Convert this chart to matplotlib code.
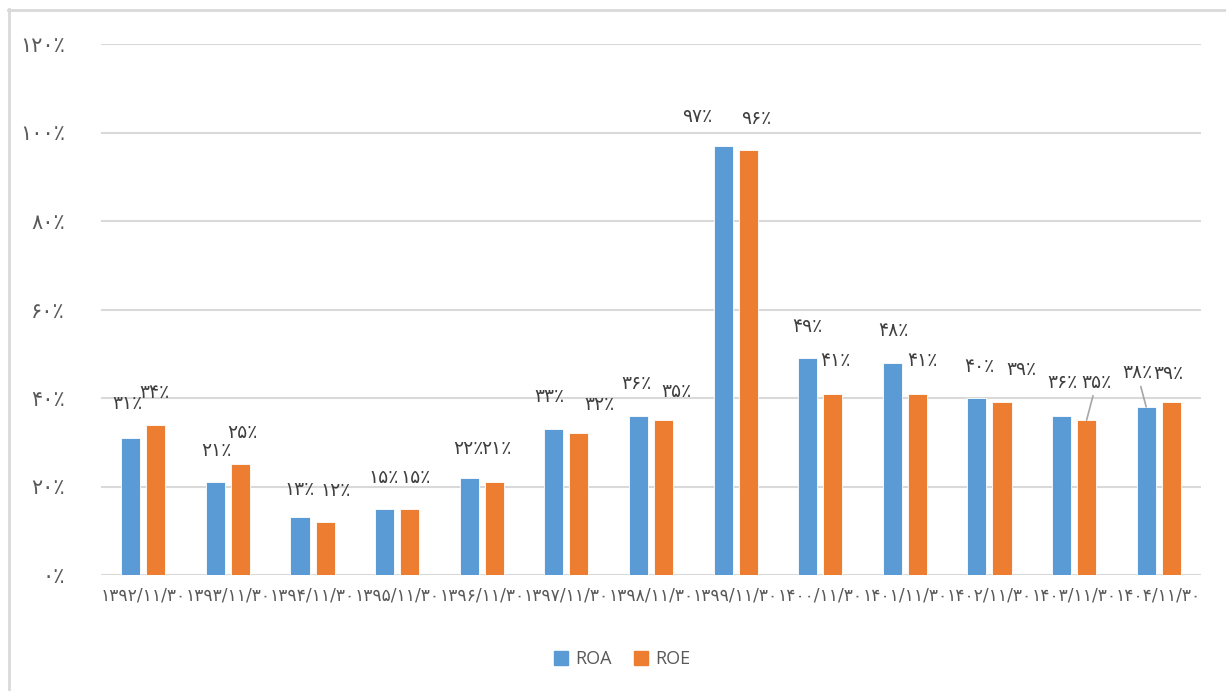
import numpy as np
import matplotlib
matplotlib.use("Agg")
import matplotlib.pyplot as plt
from matplotlib.lines import Line2D

# data (Persian dates, values in percent)
dates = ["۱۳۹۲/۱۱/۳۰", "۱۳۹۳/۱۱/۳۰", "۱۳۹۴/۱۱/۳۰", "۱۳۹۵/۱۱/۳۰", "۱۳۹۶/۱۱/۳۰",
         "۱۳۹۷/۱۱/۳۰", "۱۳۹۸/۱۱/۳۰", "۱۳۹۹/۱۱/۳۰", "۱۴۰۰/۱۱/۳۰", "۱۴۰۱/۱۱/۳۰",
         "۱۴۰۲/۱۱/۳۰", "۱۴۰۳/۱۱/۳۰", "۱۴۰۴/۱۱/۳۰"]
roa = [31, 21, 13, 15, 22, 33, 36, 97, 49, 48, 40, 36, 38]
roe = [34, 25, 12, 15, 21, 32, 35, 96, 41, 41, 39, 35, 39]
y_ticks = [0, 20, 40, 60, 80, 100, 120]

# manual label placement (pixels relative to bar top), like the hand-moved labels
roa_dx = [-3, 1, 0, -1, -1, -4, -2, -26, 0, 1, 2, 1, -9]
roa_dy = [34, 32, 28, 31, 29, 32, 32, 29, 32, 32, 31, 33, 34]
roe_dx = [-1, 2, 11, 6, 2, 21, 13, 8, 3, 5, 19, 10, -3]
roe_dy = [32, 32, 31, 31, 34, 29, 29, 32, 33, 33, 33, 38, 29]
roa_leader = [False] * 12 + [True]
roe_leader = [False] * 11 + [True, False]

PERSIAN = str.maketrans("0123456789", "۰۱۲۳۴۵۶۷۸۹")


def fa_pct(v):
    return str(int(v)).translate(PERSIAN) + "٪"


BLUE = "#5B9BD5"
ORANGE = "#ED7D31"
TXT = "#595959"
LBL = "#404040"
GRID = "#D9D9D9"

W, H = 1226, 691
fig = plt.figure(figsize=(W / 100, H / 100), dpi=100)
fig.patch.set_facecolor("white")
ax = fig.add_axes([101 / W, (H - 575) / H, 1100 / W, (575 - 44) / H])

x = np.arange(len(dates))
bw = 0.225
off = 0.148
ax.bar(x - off, roa, bw, color=BLUE, edgecolor="white", linewidth=0.6, zorder=3)
ax.bar(x + off, roe, bw, color=ORANGE, edgecolor="white", linewidth=0.6, zorder=3)

ax.set_xlim(-0.5, len(dates) - 0.5)
ax.set_ylim(0, 120)
ax.set_yticks(y_ticks)
ax.set_yticklabels([fa_pct(t) for t in y_ticks])
ax.set_xticks(x)
ax.set_xticklabels(dates)
ax.tick_params(axis="both", length=0, colors=TXT)
ax.tick_params(axis="y", pad=26, labelsize=15)
ax.tick_params(axis="x", pad=8, labelsize=12.3)
ax.yaxis.grid(True, color=GRID, linewidth=1.5, zorder=0)
for s in ax.spines.values():
    s.set_visible(False)
ax.set_axisbelow(True)


def put_labels(vals, shift, dxs, dys, leaders):
    for i, v in enumerate(vals):
        kw = dict(ha="center", va="center", fontsize=13.5, color=LBL,
                  textcoords="offset pixels", zorder=5)
        if leaders[i]:
            kw["arrowprops"] = dict(arrowstyle="-", color="#A6A6A6", lw=1.2,
                                    shrinkA=1, shrinkB=0)
        ax.annotate(fa_pct(v), xy=(i + shift, v), xytext=(dxs[i], dys[i]), **kw)


put_labels(roa, -off, roa_dx, roa_dy, roa_leader)
put_labels(roe, off, roe_dx, roe_dy, roe_leader)

handles = [plt.Rectangle((0, 0), 1, 1, color=BLUE), plt.Rectangle((0, 0), 1, 1, color=ORANGE)]
leg = fig.legend(handles, ["ROA", "ROE"], loc="center", bbox_to_anchor=(622 / W, 1 - 659 / H),
                 ncol=2, frameon=False, handlelength=0.8, handleheight=0.8,
                 handletextpad=0.4, columnspacing=1.2,
                 prop={"family": "Open Sans", "size": 13})
for t in leg.get_texts():
    t.set_color(TXT)

# chart frame (left and top edges visible in the source)
fig.add_artist(Line2D([8.5 / W, 8.5 / W], [0, 1 - 9 / H], transform=fig.transFigure,
                      color=GRID, linewidth=2))
fig.add_artist(Line2D([8 / W, 1], [1 - 9.5 / H, 1 - 9.5 / H], transform=fig.transFigure,
                      color=GRID, linewidth=2))

fig.savefig("out.png", dpi=100)
